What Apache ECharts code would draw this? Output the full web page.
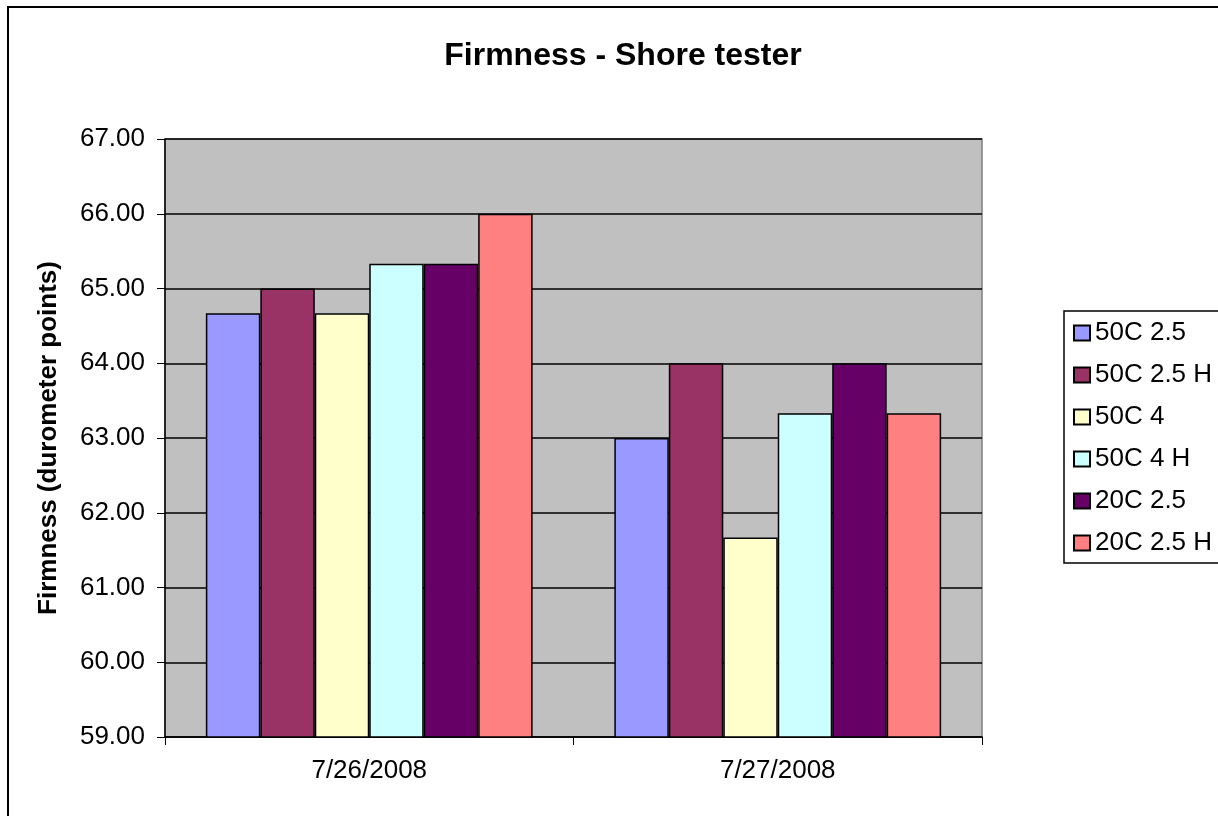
<!DOCTYPE html>
<html>
<head>
<meta charset="utf-8">
<script src="https://cdn.jsdelivr.net/npm/echarts@6/dist/echarts.min.js"></script>
<style>
html,body{margin:0;padding:0;background:#fff;}
#chart{width:1218px;height:816px;}
</style>
</head>
<body>
<div id="chart"></div>
<script>
const categories = ['7/26/2008', '7/27/2008'];
const seriesNames = ['50C 2.5', '50C 2.5 H', '50C 4', '50C 4 H', '20C 2.5', '20C 2.5 H'];
const s50C25 = [64.67, 63.00];
const s50C25H = [65.00, 64.00];
const s50C4 = [64.67, 61.67];
const s50C4H = [65.33, 63.33];
const s20C25 = [65.33, 64.00];
const s20C25H = [66.00, 63.33];
const seriesValues = [s50C25, s50C25H, s50C4, s50C4H, s20C25, s20C25H];
const colors = ['#9999FF', '#993366', '#FFFFCC', '#CCFFFF', '#660066', '#FF8080'];
const yMin = 59, yMax = 67, yInterval = 1;

const FONT = '"Liberation Sans", Arial, sans-serif';
const chart = echarts.init(document.getElementById('chart'));
chart.setOption({
  animation: false,
  backgroundColor: '#fff',
  textStyle: { fontFamily: FONT, color: '#000' },
  title: {
    text: 'Firmness - Shore tester',
    left: 618, top: 35, textAlign: 'center',
    textStyle: { fontFamily: FONT, fontSize: 32, fontWeight: 'bold', color: '#000' }
  },
  graphic: [{
    type: 'rect', silent: true, z: 100,
    shape: { x: 8, y: 7, width: 1400, height: 1000 },
    style: { fill: 'none', stroke: '#000', lineWidth: 2 }
  }],
  legend: {
    orient: 'vertical',
    left: 1064, top: 311,
    padding: [9, 40, 7, 9],
    borderColor: '#000', borderWidth: 1.5,
    itemWidth: 16, itemHeight: 15, itemGap: 16, itemTextGap: 7,
    icon: 'rect',
    textStyle: { fontFamily: FONT, fontSize: 26, color: '#000', lineHeight: 26 },
    data: seriesNames
  },
  grid: {
    left: 165, top: 139, right: 236, bottom: 79,
    show: true, backgroundColor: '#C0C0C0', borderColor: '#808080', borderWidth: 1.5
  },
  xAxis: {
    type: 'category', data: categories,
    axisLine: { lineStyle: { color: '#000', width: 1.5 } },
    axisTick: { show: true, length: 8, lineStyle: { color: '#000' } },
    axisLabel: { fontFamily: FONT, fontSize: 26, color: '#000', margin: 21 }
  },
  yAxis: {
    type: 'value', min: yMin, max: yMax, interval: yInterval,
    name: 'Firmness (durometer points)', nameLocation: 'middle', nameGap: 103,
    nameTextStyle: { fontFamily: FONT, fontSize: 26, fontWeight: 'bold', color: '#000' },
    axisLine: { show: true, lineStyle: { color: '#000', width: 1.5 } },
    axisTick: { show: true, length: 8, lineStyle: { color: '#000' } },
    axisLabel: { fontFamily: FONT, fontSize: 26, color: '#000', margin: 20,
      formatter: v => v.toFixed(2) },
    splitLine: { show: true, lineStyle: { color: '#000', width: 1.5 } }
  },
  series: seriesNames.map((n, i) => ({
    name: n, type: 'bar', data: seriesValues[i],
    barGap: '0%', barCategoryGap: '20%',
    itemStyle: { color: colors[i], borderColor: '#000', borderWidth: 1.5 }
  }))
});
</script>
</body>
</html>
